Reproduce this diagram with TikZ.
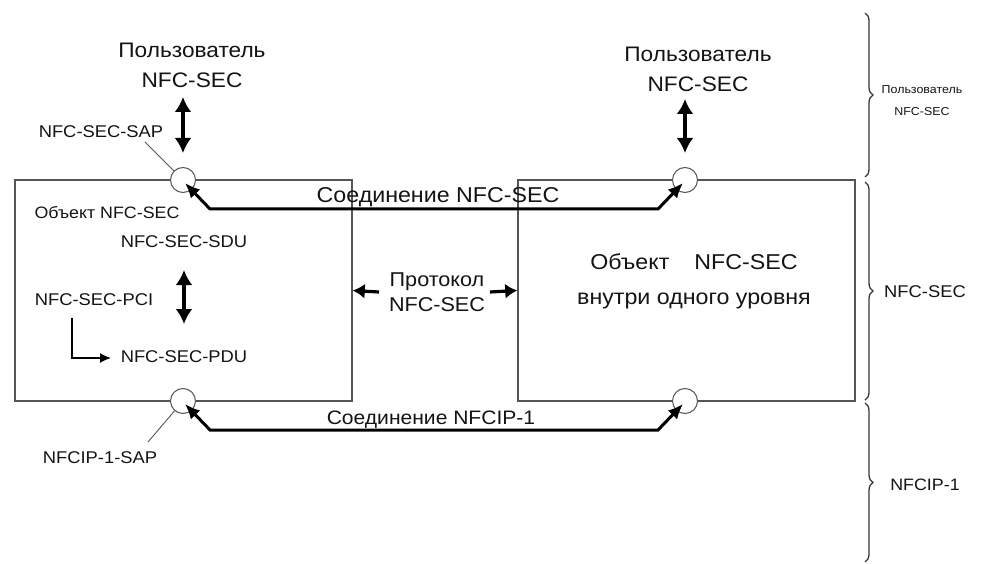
\documentclass[tikz,border=0pt]{standalone}
\usepackage{fontspec}
\setmainfont{Liberation Sans}[FakeStretch=1.08]
\usetikzlibrary{arrows.meta,calc,decorations.pathreplacing}
\definecolor{txt}{HTML}{141414}
\definecolor{boxc}{HTML}{555555}
\begin{document}
\begin{tikzpicture}[x=1pt,y=-1pt,
  lbl/.style={inner sep=0pt, text=txt, align=center},
  big/.style={lbl, font=\fontsize{21}{30}\selectfont},
  mid/.style={lbl, font=\fontsize{17}{20}\selectfont},
  tiny/.style={lbl, font=\fontsize{11.5}{22}\selectfont},
  entity/.style={draw=boxc, line width=1.5pt, minimum width=337pt, minimum height=221pt, inner sep=0pt},
  sap/.style={circle, draw=boxc, fill=white, line width=1pt, minimum size=25pt, inner sep=0pt},
  conn/.style={line width=3pt, black, {Latex[length=15pt,width=13pt]}-{Latex[length=15pt,width=13pt]}},
  dbl/.style={line width=3.2pt, black, {Latex[length=15pt,width=17pt]}-{Latex[length=15pt,width=17pt]}},
  one/.style={line width=3.2pt, black, -{Latex[length=12pt,width=15pt]}},
  leader/.style={draw=boxc, line width=0.9pt},
  lto/.style={line width=1.6pt, black, -{Latex[length=11pt,width=10pt]}},
  brc/.style={draw=txt!85, line width=1.3pt, decorate, decoration={brace, amplitude=8pt}}]

\useasboundingbox (0,0) rectangle (988,564);
\fill[white] (0,0) rectangle (988,564);

% entities
\node[entity] (e1) at (183.5,290.5) {};
\node[entity] (e2) at (686.5,290.5) {};

% service access points
\node[sap] (c1) at (183,180) {};
\node[sap] (c2) at (685,180) {};
\node[sap] (c3) at (183,401) {};
\node[sap] (c4) at (685,401) {};

% connections
\draw[conn] ($(c1.center)+(2,3)$) -- ($(c1.center)+(27,29)$) -- ($(c2.center)+(-27,29)$) -- ($(c2.center)+(-2,3)$);
\draw[conn] ($(c3.center)+(2,3)$) -- ($(c3.center)+(27,29)$) -- ($(c4.center)+(-27,29)$) -- ($(c4.center)+(-2,3)$);
\node[lbl, font=\fontsize{21.5}{25}\selectfont] (l1) at (438,197) {Соединение NFC-SEC};
\node[lbl, font=\fontsize{19.5}{25}\selectfont] (l2) at (431,420) {Соединение NFCIP-1};

% users
\node[big] (u1) at (192,65) {Пользователь\\NFC-SEC};
\node[big] (u2) at (698,69) {Пользователь\\NFC-SEC};
\coordinate (a1t) at (183,97);  \coordinate (a1b) at (183,153);
\coordinate (a2t) at (685,99);  \coordinate (a2b) at (685,153);
\draw[dbl] (a1t) -- (a1b);
\draw[dbl] (a2t) -- (a2b);

% SAP labels
\node[mid] (s1) at (101,132) {NFC-SEC-SAP};
\coordinate (s1e) at (145,142);
\draw[leader] (s1e) -- (c1);
\node[mid] (s3) at (100,458) {NFCIP-1-SAP};
\coordinate (s3e) at (148,442);
\draw[leader] (s3e) -- (c3);

% inside left entity
\node[lbl, font=\fontsize{16.5}{20}\selectfont] (o1) at (107,213) {Объект NFC-SEC};
\node[mid] (sdu) at (184,242) {NFC-SEC-SDU};
\node[mid] (pci) at (94,300) {NFC-SEC-PCI};
\node[mid] (pdu) at (184,357) {NFC-SEC-PDU};
\coordinate (i1t) at (184,270); \coordinate (i1b) at (184,324);
\draw[dbl] (i1t) -- (i1b);
\coordinate (pcb) at (72,318);
\coordinate (pce) at (111,358);
\draw[lto] (pcb) |- (pce);

% protocol
\node[lbl, font=\fontsize{20}{25}\selectfont] (pr) at (437,292) {Протокол\\NFC-SEC};
\coordinate (p1) at (379,292); \coordinate (p2) at (490,292);
\draw[one] (p1) -- (e1.east);
\draw[one] (p2) -- (e2.west);

% right entity text
\node[lbl, font=\fontsize{21.5}{35}\selectfont] (o2) at (694,281) {Объект\hspace{25pt}NFC-SEC\\внутри одного уровня};

% braces
\coordinate (b1t) at (865,13);  \coordinate (b1b) at (865,177);
\coordinate (b2t) at (865,182); \coordinate (b2b) at (865,400);
\coordinate (b3t) at (865,403); \coordinate (b3b) at (865,562);
\draw[brc] (b1t) -- (b1b);
\draw[brc] (b2t) -- (b2b);
\draw[brc] (b3t) -- (b3b);
\node[tiny] (bl1) at (922,101) {Пользователь\\NFC-SEC};
\node[mid] (bl2) at (925,292) {NFC-SEC};
\node[lbl, font=\fontsize{16.5}{20}\selectfont] (bl3) at (925,485) {NFCIP-1};
\end{tikzpicture}
\end{document}
